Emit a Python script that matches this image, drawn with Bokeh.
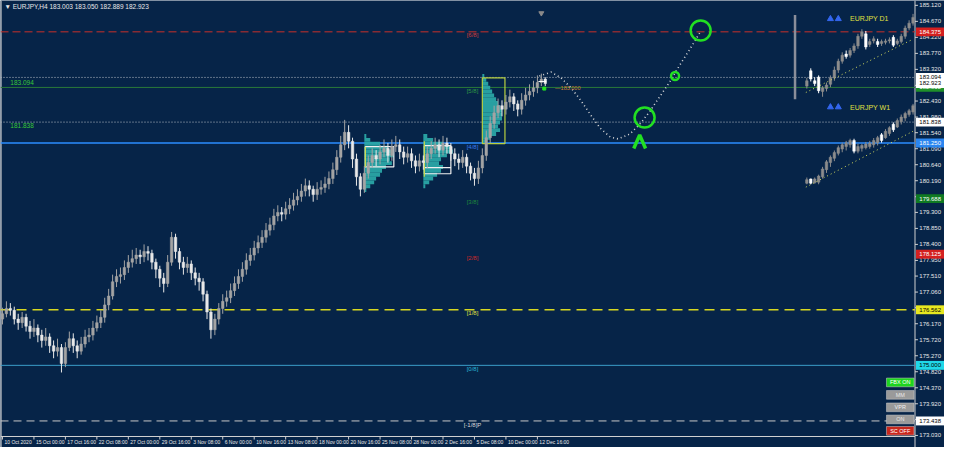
from bokeh.plotting import figure
from bokeh.models import Range1d
from bokeh.core.properties import value
from bokeh.embed import file_html
from bokeh.resources import INLINE

BG = "#062448"
FONT = "Liberation Sans"

title_text = "\u25bc EURJPY,H4  183.003 183.050 182.889 182.923"

# ---- axes ----
x_tick_bars = [1, 17, 33, 49, 65, 81, 97, 113, 129, 145, 161, 177, 193, 209, 225, 241, 257, 273]
x_tick_labels = ["10 Oct 2020", "15 Oct 00:00", "17 Oct 16:00", "22 Oct 08:00", "27 Oct 00:00",
                 "29 Oct 16:00", "3 Nov 08:00", "6 Nov 00:00", "10 Nov 16:00", "13 Nov 08:00",
                 "18 Nov 00:00", "20 Nov 16:00", "25 Nov 08:00", "28 Nov 00:00", "2 Dec 16:00",
                 "5 Dec 08:00", "10 Dec 00:00", "12 Dec 16:00"]
y_ticks = [185.120, 184.670, 184.220, 183.770, 183.320, 182.870, 182.430, 181.980, 181.540,
           181.090, 180.640, 180.190, 179.740, 179.300, 178.850, 178.400, 177.950, 177.510,
           177.060, 176.620, 176.170, 175.720, 175.270, 174.820, 174.370, 173.920, 173.480, 173.030]

# ---- main H4 candles (each drawn candle = 2 bars) ----
first_open = 176.30
closes = [176.45,176.60,176.55,176.30,176.20,176.35,176.10,175.95,176.05,175.85,
          175.70,175.80,175.55,175.40,175.50,175.05,175.50,175.75,175.55,175.40,
          175.60,175.80,175.85,176.05,176.20,176.35,176.70,176.95,177.35,177.50,
          177.55,177.75,177.90,178.00,178.10,178.05,178.20,178.15,177.90,177.70,
          177.45,177.30,177.90,178.60,178.20,177.90,177.75,177.85,177.60,177.45,
          177.35,177.00,176.50,176.00,176.30,176.60,176.80,176.90,177.10,177.30,
          177.50,177.70,177.95,178.10,178.30,178.45,178.60,178.80,178.95,179.20,
          179.30,179.25,179.40,179.50,179.65,179.75,179.90,180.05,179.95,179.80,
          179.95,180.00,180.10,180.25,180.50,180.85,181.20,181.55,181.30,180.80,
          180.30,179.95,180.40,180.70,180.90,180.80,181.00,181.10,180.90,181.15,
          181.20,181.00,180.85,180.95,180.75,180.60,180.75,180.70,180.95,181.10,
          181.20,181.05,181.25,181.15,180.95,180.80,180.70,180.85,180.60,180.40,
          180.25,180.55,180.90,181.40,181.80,182.10,182.30,182.20,182.40,182.55,
          182.35,182.20,182.45,182.60,182.70,182.80,182.95,183.05,182.92]
highs = [176.62,176.80,176.75,176.65,176.45,176.50,176.45,176.25,176.30,176.15,
         176.00,176.05,175.90,175.70,175.75,175.60,175.65,175.95,175.90,175.70,
         175.80,176.00,176.05,176.25,176.40,176.55,176.90,177.15,177.55,177.70,
         177.75,177.95,178.10,178.25,178.30,178.25,178.40,178.35,178.25,178.00,
         177.80,177.60,178.10,178.75,178.70,178.30,178.05,178.05,177.95,177.75,
         177.60,177.45,177.10,176.60,176.45,176.75,177.00,177.10,177.30,177.50,
         177.70,177.90,178.15,178.30,178.50,178.65,178.80,179.00,179.15,179.40,
         179.50,179.45,179.60,179.70,179.85,179.95,180.10,180.25,180.20,180.05,
         180.15,180.20,180.30,180.45,180.70,181.05,181.45,181.90,181.75,181.40,
         180.95,180.40,180.60,180.90,181.10,181.05,181.20,181.35,181.25,181.35,
         181.45,181.35,181.15,181.15,181.10,180.90,180.95,180.90,181.15,181.30,
         181.40,181.35,181.45,181.40,181.25,181.10,180.95,181.05,180.95,180.70,
         180.55,180.75,181.10,181.60,182.00,182.30,182.50,182.45,182.60,182.75,
         182.65,182.45,182.65,182.80,182.90,183.00,183.15,183.20,183.10]
lows = [176.15,176.35,176.40,176.15,176.00,176.05,175.95,175.75,175.80,175.65,
        175.50,175.55,175.35,175.20,175.25,174.80,174.95,175.40,175.35,175.20,
        175.30,175.50,175.65,175.70,175.95,176.05,176.20,176.55,176.85,177.20,
        177.30,177.40,177.60,177.75,177.85,177.85,177.90,177.95,177.70,177.45,
        177.20,177.05,177.20,177.80,178.00,177.70,177.55,177.60,177.40,177.25,
        177.10,176.80,176.30,175.75,175.85,176.15,176.45,176.65,176.75,176.95,
        177.15,177.35,177.55,177.80,177.95,178.15,178.30,178.45,178.65,178.80,
        179.05,179.05,179.10,179.25,179.35,179.50,179.60,179.75,179.75,179.60,
        179.65,179.80,179.85,179.95,180.10,180.35,180.70,181.05,181.10,180.55,
        180.05,179.75,179.85,180.25,180.55,180.60,180.65,180.85,180.70,180.75,
        181.00,180.80,180.65,180.70,180.55,180.40,180.45,180.50,180.55,180.80,
        180.95,180.85,180.90,180.95,180.75,180.60,180.50,180.55,180.40,180.20,
        180.05,180.10,180.40,180.75,181.25,181.65,181.95,182.00,182.05,182.25,
        182.15,182.00,182.05,182.30,182.45,182.55,182.65,182.85,182.85]

# ---- Murrey math levels ----
murrey_prices = [184.375, 182.8125, 181.25, 179.6875, 178.125, 176.5625, 175.0, 173.4375]
murrey_labels = ["[6/8]", "[5/8]", "[4/8]", "[3/8]", "[2/8]", "[1/8]", "[0/8]", "[-1/8]P"]
murrey_text_colors = ["#d23a3a", "#2f9a45", "#3c7cf0", "#1f8a3c", "#d02828", "#e0e040", "#2ab6d6", "#d8d8d8"]
murrey_line_colors = ["#c8302a", "#2a7a3a", "#2b8cff", None, None, "#d8d820", "#3a9ec8", "#c8c8c8"]
murrey_dash = ["8 4", "solid", "solid", "solid", "solid", "10 6", "solid", "8 5"]
murrey_line_width = [1, 1, 1.5, 1, 1, 1.5, 1, 1]
murrey_tag_colors = ["#d42020", "#1f8f2a", "#2b86f0", "#0f7a22", "#d42020", "#e8e820", "#20d8e8", "#ffffff"]
murrey_tag_text = ["#ffffff", "#ffffff", "#ffffff", "#ffffff", "#ffffff", "#000000", "#000000", "#000000"]

dotted_levels = [183.094, 181.838]
bid_price = 182.923

# ---- projection path ----
proj_x = [274, 280, 285, 290, 295, 300, 305, 310, 314, 320, 325, 330, 335, 340, 345, 350, 356]
proj_y = [183.134, 183.243, 183.080, 182.808, 182.454, 182.046, 181.665, 181.420, 181.366,
          181.502, 181.774, 182.128, 182.536, 182.944, 183.406, 183.841, 184.386]
target_x = [327.5, 343, 356]
target_y = [181.965, 183.134, 184.413]
target_size = [20, 8, 20]
arrow_x = [322, 325, 328]
arrow_y = [181.094, 181.475, 181.094]

# ---- volume profiles ----
prof1_start = 185.0
prof1_levels = [181.447, 181.339, 181.230, 181.121, 181.012, 180.903, 180.795, 180.686,
                180.577, 180.468, 180.359, 180.251, 180.142, 180.033, 179.924]
prof1_width = [1, 3, 8, 12, 14, 15, 13, 14, 11, 9, 8, 6, 5, 3, 1]
prof2_start = 215.0
prof2_levels = [181.447, 181.339, 181.230, 181.121, 181.012, 180.903, 180.795, 180.686,
                180.577, 180.468, 180.359, 180.251, 180.142, 180.033]
prof2_width = [2, 5, 10, 14, 15, 12, 9, 8, 10, 9, 7, 5, 3, 1]
prof3_start = 245.0
prof3_levels = [183.134, 183.025, 182.917, 182.808, 182.699, 182.590, 182.481, 182.373,
                182.264, 182.155, 182.046, 181.937, 181.828, 181.719, 181.611, 181.502,
                181.393, 181.284]
prof3_width = [1, 2, 3, 4, 5, 6, 7, 8, 9, 10, 10, 10, 9, 8, 9, 7, 4, 2]

# ---- D1 / W1 mini charts ----
d1_open = [182.85,183.28,183.00,183.10,182.70,182.78,182.90,183.08,183.30,183.55,183.75,183.72,183.85,183.98,
           184.25,184.32,184.02,184.12,184.10,184.05,184.08,184.12,184.22,184.05,184.10,184.25,184.48,184.62]
d1_close = [183.00,183.05,182.92,182.72,182.80,182.88,183.08,183.30,183.55,183.72,183.68,183.85,183.98,184.25,
            184.38,183.95,184.10,184.18,184.02,184.10,184.12,184.15,184.00,184.12,184.25,184.48,184.62,184.78]
d1_high = [183.08,183.35,183.10,183.15,182.85,182.95,183.15,183.40,183.62,183.80,183.85,183.92,184.05,184.32,
           184.45,184.40,184.18,184.25,184.18,184.16,184.18,184.22,184.28,184.18,184.32,184.55,184.70,184.88]
d1_low = [182.78,182.98,182.85,182.65,182.55,182.70,182.82,183.00,183.22,183.48,183.62,183.65,183.78,183.90,
          184.18,183.88,183.95,184.05,183.95,183.98,184.02,184.05,183.95,184.00,184.05,184.18,184.42,184.55]
w1_open = [180.12,180.24,180.13,180.15,180.30,180.50,180.70,180.82,180.96,181.08,181.15,181.20,181.32,181.02,
           181.10,181.12,181.15,181.20,181.25,181.48,181.40,181.52,181.78,181.70,181.85,181.95,182.05,182.12]
w1_close = [180.22,180.12,180.24,180.32,180.52,180.72,180.85,180.98,181.12,181.20,181.26,181.32,181.02,181.15,
            181.18,181.22,181.25,181.32,181.40,181.32,181.58,181.68,181.62,181.88,181.98,182.08,182.16,182.30]
w1_high = [180.28,180.25,180.28,180.36,180.58,180.77,180.90,181.04,181.18,181.26,181.31,181.37,181.37,181.23,
           181.23,181.28,181.31,181.39,181.45,181.53,181.64,181.72,181.83,181.94,182.05,182.13,182.21,182.35]
w1_low = [180.09,180.09,180.11,180.09,180.25,180.41,180.58,180.74,180.90,180.99,181.04,181.12,180.96,180.96,
          181.01,181.07,181.09,181.12,181.18,181.26,181.37,181.45,181.56,181.67,181.77,181.86,181.99,182.05]
mini_start = 410
d1_trend_x = [409.5, 464]
d1_trend_y = [182.67, 184.17]
w1_trend_x = [409.5, 464]
w1_trend_y = [180.01, 181.58]

buttons = ["FBX ON", "MM", "VPR", "ON", "SC OFF"]
button_y = [174.52, 174.17, 173.82, 173.48, 173.16]
button_fill = ["#1ed41e", "#9a9a9a", "#9a9a9a", "#9a9a9a", "#c8281e"]
button_text = ["#ffffff", "#e8e8e8", "#f0f0f0", "#e8e8e8", "#ffffff"]

# =========================================================
X_END = 465.0        # right edge of price area (bars)
X_MAX = 480.0
Y_BOT = 173.0        # bottom edge of price area (price)
Y_TOP = 185.256
Y_MIN = 172.691
p = figure(width=944, height=447, x_range=Range1d(0, X_MAX), y_range=Range1d(Y_MIN, Y_TOP),
           x_axis_location=None, y_axis_location=None,
           output_backend="svg", toolbar_location=None,
           background_fill_color=BG, border_fill_color=BG,
           min_border=0, min_border_left=0, min_border_right=0, min_border_top=0, min_border_bottom=0)
p.grid.visible = False
p.outline_line_color = None

AX = "#d0d0d0"
# frame lines: left border, right price axis, bottom time axis
p.segment(x0=[0.3, X_END, 0], y0=[Y_MIN, Y_MIN, Y_BOT], x1=[0.3, X_END, X_END],
          y1=[Y_TOP, Y_TOP, Y_BOT], line_color=AX, line_width=1)

# level lines
for pr, col, dash, lw in zip(murrey_prices, murrey_line_colors, murrey_dash, murrey_line_width):
    if col is None:
        continue
    p.line([0, X_END], [pr, pr], line_color=col, line_width=lw, line_dash=dash)
for pr in dotted_levels:
    p.line([0, X_END], [pr, pr], line_color="#b8c0c8", line_width=1, line_dash="1 2")

# volume profiles
for start, levels, widths in [(prof1_start, prof1_levels, prof1_width),
                              (prof2_start, prof2_levels, prof2_width),
                              (prof3_start, prof3_levels, prof3_width)]:
    p.hbar(y=levels, left=start, right=[start + w for w in widths], height=0.109,
           fill_color="#2aa6a6", line_color=None, fill_alpha=0.95)

# value-area boxes
p.quad(left=[185.5], right=[200], top=[181.148], bottom=[180.577], fill_color=None,
       line_color="#f0f0f0", line_width=1.2)
p.segment(x0=[185.5], y0=[181.148], x1=[185.5], y1=[180.577], line_color="#c8d848", line_width=1.2)
p.quad(left=[215.5], right=[229], top=[181.175], bottom=[180.386], fill_color=None,
       line_color="#f0f0f0", line_width=1.2)
p.segment(x0=[215.5], y0=[180.56], x1=[229], y1=[180.56], line_color="#f0f0f0", line_width=1.2)
p.segment(x0=[215.5], y0=[181.3], x1=[215.5], y1=[180.3], line_color="#c8d848", line_width=1.2)
p.quad(left=[245], right=[256.5], top=[183.08], bottom=[181.23], fill_color=None,
       line_color="#b8d040", line_width=1.2)

# main candles
opens = [first_open] + closes[:-1]
cx = [1 + 2 * k for k in range(len(closes))]
ccol = ["#a4a4a4" if c >= o else "#e8e8e8" for o, c in zip(opens, closes)]
p.segment(x0=cx, y0=lows, x1=cx, y1=highs, line_color=ccol, line_width=1)
p.vbar(x=cx, width=1.3, top=[max(o, c) for o, c in zip(opens, closes)],
       bottom=[min(o, c) for o, c in zip(opens, closes)], fill_color=ccol, line_color=ccol, line_width=0.5)

# projection
p.line(proj_x, proj_y, line_color="#d8d8d8", line_width=1.6, line_dash="1 3")
p.scatter(target_x, target_y, size=target_size, marker="circle", fill_color=None,
          line_color="#22e022", line_width=2.5)
p.line(arrow_x, arrow_y, line_color="#22e022", line_width=3.5)
p.scatter([276.5], [182.78], size=3, marker="square", color="#22e022")
p.text([282], [182.79], text=["\u2014183.000"], text_color="#d08030", text_font_size="5.5px",
       text_baseline="middle", text_font=value(FONT))
p.segment(x0=[273.5], y0=[182.98], x1=[277.5], y1=[182.98], line_color="#ffffff", line_width=1)
p.scatter([275], [184.90], size=5, marker="inverted_triangle", color="#8a8a8a")

# texts
p.text([2], [185.09], text=[title_text], text_color="#e8e8e8", text_font_size="6.5px",
       text_baseline="middle", text_font=value(FONT))
p.text([5, 5], [182.944, 181.747], text=["183.094", "181.838"], text_color="#38c838",
       text_font_size="6.5px", text_baseline="middle", text_font=value(FONT))
p.text([240] * len(murrey_prices), [pr - 0.1 for pr in murrey_prices], text=murrey_labels,
       text_color=murrey_text_colors, text_font_size="6px", text_align="center",
       text_baseline="middle", text_font=value(FONT))

# mini charts
p.segment(x0=[404], y0=[184.848], x1=[404], y1=[182.481], line_color="#8a8e9a", line_width=2.5)
for o_, c_, h_, l_ in [(d1_open, d1_close, d1_high, d1_low), (w1_open, w1_close, w1_high, w1_low)]:
    mx = [mini_start + 2 * j for j in range(len(o_))]
    col = ["#8c8c8c" if c >= o else "#ffffff" for o, c in zip(o_, c_)]
    p.segment(x0=mx, y0=l_, x1=mx, y1=h_, line_color=col, line_width=1)
    p.vbar(x=mx, width=1.3, top=[max(a, b) for a, b in zip(o_, c_)],
           bottom=[min(a, b) for a, b in zip(o_, c_)], fill_color=col, line_color=col, line_width=0.5)
p.line(d1_trend_x, d1_trend_y, line_color="#d8e060", line_width=1, line_dash="1 3")
p.line(w1_trend_x, w1_trend_y, line_color="#d8e060", line_width=1, line_dash="1 3")
p.scatter([422, 426, 422, 426], [184.74, 184.74, 182.26, 182.26], marker="triangle", size=6,
          color="#3366ee")
p.text([432, 432], [184.74, 182.26], text=["EURJPY D1", "EURJPY W1"], text_color="#e0e040",
       text_font_size="7px", text_baseline="middle", text_font=value(FONT))

# buttons
p.rect(x=[457.5] * 5, y=button_y, width=14, height=0.245, fill_color=button_fill,
       line_color="#d0d0d0", line_width=0.5)
p.text([457.5] * 5, button_y, text=buttons, text_color=button_text, text_font_size="5.5px",
       text_align="center", text_baseline="middle", text_font=value(FONT))

# ---- price axis (right) ----
LBL_X = X_END + 2.2
p.segment(x0=[X_END] * len(y_ticks), y0=y_ticks, x1=[X_END + 1.5] * len(y_ticks), y1=y_ticks,
          line_color=AX, line_width=1)
p.text([LBL_X] * len(y_ticks), y_ticks, text=["%.3f" % t for t in y_ticks],
       text_color="#e8e8e8", text_font_size="6px", text_baseline="middle",
       text_font=value(FONT))

# price tags on axis
tag_prices = murrey_prices + [dotted_levels[0], bid_price, dotted_levels[1]]
tag_bg = murrey_tag_colors + ["#ffffff", "#ffffff", "#ffffff"]
tag_fg = murrey_tag_text + ["#000000", "#000000", "#000000"]
p.quad(left=[X_END + 0.5] * len(tag_prices), right=[X_MAX] * len(tag_prices),
       top=[t + 0.125 for t in tag_prices], bottom=[t - 0.125 for t in tag_prices],
       fill_color=tag_bg, line_color=None)
p.text([LBL_X] * len(tag_prices), tag_prices, text=["%.3f" % t for t in tag_prices],
       text_color=tag_fg, text_font_size="6px", text_baseline="middle", text_font=value(FONT))

# ---- time axis (bottom) ----
p.segment(x0=x_tick_bars, y0=[Y_BOT] * len(x_tick_bars), x1=x_tick_bars,
          y1=[Y_BOT - 0.085] * len(x_tick_bars), line_color=AX, line_width=1)
p.text([t + 1 for t in x_tick_bars], [Y_BOT - 0.15] * len(x_tick_bars), text=x_tick_labels,
       text_color="#e8e8e8", text_font_size="5px", text_baseline="middle",
       text_font=value(FONT))

open("out.html", "w").write(file_html(p, INLINE))
